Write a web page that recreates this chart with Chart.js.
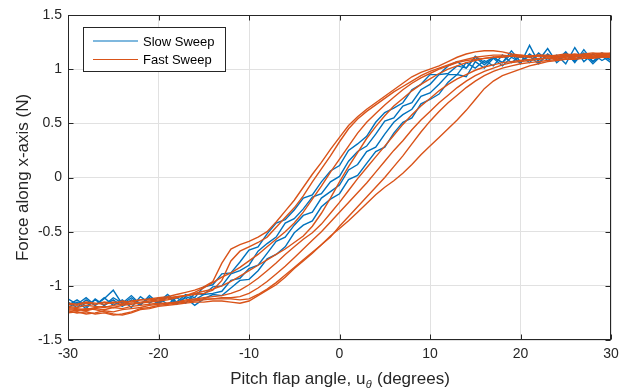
<!DOCTYPE html>
<html>
<head>
<meta charset="utf-8">
<script src="https://cdn.jsdelivr.net/npm/chart.js@4/dist/chart.umd.min.js"></script>
<style>
  html, body { margin: 0; padding: 0; background: #fff; }
  #wrap { width: 629px; height: 392px; }
</style>
</head>
<body>
<div id="wrap"><canvas id="forceChart"></canvas></div>
<script>
// pitch flap angle samples (degrees), shared by every sweep branch
const angleDeg = [-30,-29,-28,-27,-26,-25,-24,-23,-22,-21,-20,-19,-18,-17,-16,-15,-14,-13,-12,-11,-10,-9,-8,-7,-6,-5,-4,-3,-2,-1,
  0,1,2,3,4,5,6,7,8,9,10,11,12,13,14,15,16,17,18,19,20,21,22,23,24,25,26,27,28,29,30];

// slow sweep branches (N)
const slowSweep1 = [-1.12,-1.17,-1.11,-1.18,-1.12,-1.04,-1.17,-1.11,-1.17,-1.11,-1.15,-1.08,-1.15,-1.08,-1.11,
  -1.01,-0.99,-0.89,-0.88,-0.78,-0.67,-0.64,-0.52,-0.42,-0.39,-0.30,-0.19,-0.16,-0.04,0.06,0.11,0.25,0.31,0.38,0.51,0.60,0.64,0.69,0.81,0.86,0.95,0.95,1.03,
  1.07,1.01,1.12,1.06,1.11,1.06,1.17,1.07,1.12,1.05,1.14,1.08,1.16,1.06,1.18,1.07,1.15,1.08];
const slowSweep2 = [-1.18,-1.13,-1.19,-1.13,-1.18,-1.11,-1.16,-1.09,-1.17,-1.11,-1.17,-1.10,-1.17,-1.10,-1.13,
  -1.08,-1.01,-1.00,-0.89,-0.86,-0.81,-0.68,-0.61,-0.55,-0.42,-0.38,-0.29,-0.18,-0.15,-0.04,0.01,0.15,0.24,0.29,0.40,0.52,0.55,0.66,0.69,0.81,0.86,0.95,0.96,
  1.03,1.01,1.11,1.04,1.11,1.06,1.14,1.05,1.22,1.06,1.13,1.08,1.15,1.07,1.14,1.05,1.13,1.08];
const slowSweep3 = [-1.15,-1.20,-1.13,-1.18,-1.11,-1.18,-1.13,-1.20,-1.10,-1.16,-1.11,-1.17,-1.11,-1.16,-1.07,
  -1.08,-1.07,-1.05,-0.95,-0.93,-0.84,-0.81,-0.70,-0.59,-0.55,-0.44,-0.35,-0.32,-0.19,-0.13,-0.07,0.07,0.12,0.24,0.28,0.40,0.51,0.58,0.63,0.75,0.78,0.86,0.95,
  0.95,1.06,1.01,1.08,1.03,1.13,1.06,1.12,1.06,1.15,1.08,1.13,1.05,1.20,1.07,1.14,1.08,1.13];
const slowSweep4 = [-1.20,-1.15,-1.21,-1.12,-1.18,-1.13,-1.19,-1.13,-1.18,-1.09,-1.16,-1.10,-1.16,-1.11,-1.18,
  -1.12,-1.08,-1.09,-1.02,-0.95,-0.94,-0.86,-0.75,-0.71,-0.64,-0.51,-0.44,-0.40,-0.27,-0.20,-0.15,-0.02,0.02,0.13,0.24,0.28,0.41,0.51,0.55,0.68,0.72,0.77,0.88,
  0.95,0.93,1.07,1.01,1.10,1.03,1.11,1.06,1.14,1.08,1.19,1.06,1.13,1.08,1.15,1.07,1.12,1.06];

// fast sweep branches (N)
const fastSweep1 = [-1.17,-1.18,-1.16,-1.17,-1.15,-1.16,-1.14,-1.15,-1.13,-1.12,-1.11,-1.10,-1.08,-1.06,-1.04,-1.01,-0.96,-0.79,-0.66,-0.62,-0.59,-0.55,-0.50,-0.41,-0.31,-0.21,-0.09,0.03,0.14,0.26,
  0.37,0.48,0.56,0.63,0.69,0.75,0.81,0.87,0.93,0.97,1.00,1.03,1.07,1.11,1.14,1.16,1.17,1.17,1.16,1.14,1.13,1.12,1.12,1.11,1.12,1.12,1.13,1.12,1.13,1.14,1.13];
const fastSweep2 = [-1.19,-1.20,-1.18,-1.19,-1.20,-1.18,-1.17,-1.16,-1.15,-1.14,-1.13,-1.12,-1.10,-1.09,-1.08,-1.07,-1.04,-0.95,-0.77,-0.68,-0.64,-0.60,-0.55,-0.46,-0.37,-0.28,-0.17,-0.04,0.08,0.20,
  0.33,0.45,0.54,0.61,0.67,0.73,0.79,0.84,0.89,0.94,0.98,1.01,1.04,1.07,1.09,1.11,1.12,1.13,1.13,1.12,1.12,1.11,1.12,1.12,1.11,1.12,1.13,1.13,1.12,1.13,1.14];
const fastSweep3 = [-1.20,-1.21,-1.22,-1.20,-1.19,-1.20,-1.18,-1.17,-1.16,-1.15,-1.14,-1.13,-1.11,-1.09,-1.06,-1.02,-0.97,-0.92,-0.88,-0.83,-0.77,-0.71,-0.64,-0.57,-0.50,-0.42,-0.32,-0.20,-0.08,0.05,
  0.17,0.29,0.41,0.51,0.59,0.67,0.74,0.81,0.87,0.92,0.96,1.00,1.03,1.06,1.08,1.09,1.10,1.11,1.11,1.12,1.11,1.12,1.13,1.12,1.13,1.14,1.13,1.14,1.15,1.14,1.15];
const fastSweep4 = [-1.16,-1.17,-1.15,-1.16,-1.17,-1.15,-1.16,-1.14,-1.13,-1.13,-1.12,-1.11,-1.10,-1.09,-1.07,-1.05,-1.03,-1.00,-0.96,-0.91,-0.86,-0.81,-0.76,-0.71,-0.66,-0.60,-0.54,-0.45,-0.33,-0.19,
  -0.04,0.10,0.23,0.36,0.47,0.57,0.66,0.73,0.80,0.86,0.91,0.96,1.00,1.03,1.06,1.08,1.10,1.11,1.12,1.12,1.13,1.12,1.13,1.13,1.12,1.13,1.14,1.13,1.14,1.15,1.14];
const fastSweep5 = [-1.25,-1.24,-1.26,-1.25,-1.23,-1.24,-1.22,-1.21,-1.20,-1.18,-1.17,-1.16,-1.15,-1.13,-1.12,-1.11,-1.10,-1.09,-1.07,-1.04,-0.99,-0.93,-0.86,-0.79,-0.71,-0.64,-0.57,-0.51,-0.43,-0.33,
  -0.23,-0.12,-0.01,0.09,0.19,0.29,0.39,0.49,0.58,0.66,0.73,0.80,0.86,0.91,0.95,0.99,1.02,1.04,1.06,1.07,1.08,1.09,1.10,1.10,1.11,1.10,1.11,1.12,1.11,1.12,1.12];
const fastSweep6 = [-1.21,-1.22,-1.23,-1.21,-1.22,-1.20,-1.21,-1.19,-1.18,-1.17,-1.16,-1.16,-1.15,-1.14,-1.13,-1.12,-1.12,-1.11,-1.11,-1.10,-1.07,-1.02,-0.96,-0.89,-0.82,-0.74,-0.66,-0.58,-0.50,-0.41,
  -0.32,-0.23,-0.14,-0.05,0.05,0.15,0.25,0.34,0.44,0.53,0.61,0.69,0.76,0.83,0.89,0.94,0.98,1.01,1.04,1.06,1.07,1.08,1.09,1.10,1.10,1.11,1.12,1.11,1.12,1.13,1.12];
const fastSweep7 = [-1.23,-1.25,-1.24,-1.26,-1.25,-1.27,-1.26,-1.24,-1.21,-1.20,-1.18,-1.17,-1.16,-1.15,-1.14,-1.13,-1.12,-1.12,-1.12,-1.13,-1.12,-1.08,-1.03,-0.97,-0.90,-0.83,-0.76,-0.69,-0.62,-0.55,
  -0.45,-0.36,-0.27,-0.18,-0.09,0.00,0.10,0.20,0.31,0.42,0.52,0.61,0.69,0.76,0.83,0.89,0.94,0.98,1.01,1.03,1.05,1.06,1.07,1.08,1.09,1.09,1.10,1.10,1.11,1.11,1.12];
const fastSweep8 = [-1.22,-1.23,-1.21,-1.22,-1.24,-1.26,-1.27,-1.25,-1.22,-1.21,-1.19,-1.18,-1.17,-1.16,-1.15,-1.15,-1.14,-1.14,-1.15,-1.16,-1.14,-1.09,-1.04,-0.99,-0.92,-0.84,-0.77,-0.70,-0.62,-0.54,
  -0.47,-0.40,-0.32,-0.24,-0.16,-0.09,-0.03,0.04,0.12,0.21,0.29,0.37,0.45,0.53,0.62,0.72,0.82,0.89,0.94,0.97,1.00,1.03,1.05,1.07,1.08,1.09,1.09,1.10,1.10,1.11,1.11];

const seriesNames = ['Slow Sweep', 'Fast Sweep'];
const seriesColors = ['#0072BD', '#D95319'];
const slowBranches = [slowSweep1, slowSweep2, slowSweep3, slowSweep4];
const fastBranches = [fastSweep1, fastSweep2, fastSweep3, fastSweep4, fastSweep5, fastSweep6, fastSweep7, fastSweep8];

const xTicks = [-30, -20, -10, 0, 10, 20, 30];
const xTickLabels = ['-30', '-20', '-10', '0', '10', '20', '30'];
const yTicks = [-1.5, -1, -0.5, 0, 0.5, 1, 1.5];
const yTickLabels = ['-1.5', '-1', '-0.5', '0', '0.5', '1', '1.5'];

const FONT = '"Liberation Sans", Arial, Helvetica, sans-serif';
const TEXT_COLOR = '#262626';

function branchDataset(ys, series) {
    return {
        label: seriesNames[series],
        data: angleDeg.map((a, i) => ({ x: a, y: ys[i] })),
        borderColor: seriesColors[series],
        borderWidth: 1.4,
        pointRadius: 0,
        showLine: true,
        tension: 0,
        order: series === 0 ? 1 : 0
    };
}

const datasets = [
    ...slowBranches.map(b => branchDataset(b, 0)),
    ...fastBranches.map(b => branchDataset(b, 1))
];

// MATLAB-like box, inward ticks, legend and axis titles
const matlabAxes = {
    id: 'matlabAxes',
    afterDatasetsDraw(chart) {
        const { ctx, chartArea: a, scales: { x, y } } = chart;
        const L = Math.round(a.left) + 0.5, R = Math.round(a.right) - 0.5;
        const T = Math.round(a.top) + 0.5, B = Math.round(a.bottom) - 0.5;
        ctx.save();
        ctx.strokeStyle = TEXT_COLOR;
        ctx.lineWidth = 1;
        ctx.strokeRect(L, T, R - L, B - T);
        ctx.beginPath();
        xTicks.forEach(v => {
            const px = Math.round(x.getPixelForValue(v)) + 0.5;
            ctx.moveTo(px, B); ctx.lineTo(px, B - 5);
            ctx.moveTo(px, T); ctx.lineTo(px, T + 5);
        });
        yTicks.forEach(v => {
            const py = Math.round(y.getPixelForValue(v)) + 0.5;
            ctx.moveTo(L, py); ctx.lineTo(L + 5, py);
            ctx.moveTo(R, py); ctx.lineTo(R - 5, py);
        });
        ctx.stroke();

        // legend box
        const lx = 83.5, ly = 27.5, lw = 142, lh = 44;
        ctx.fillStyle = '#fff';
        ctx.fillRect(lx, ly, lw, lh);
        ctx.strokeStyle = '#262626';
        ctx.strokeRect(lx, ly, lw, lh);
        ctx.font = '13px ' + FONT;
        ctx.textBaseline = 'middle';
        ctx.textAlign = 'left';
        seriesNames.forEach((name, i) => {
            const yy = 41 + i * 18.5;
            ctx.strokeStyle = seriesColors[i];
            ctx.lineWidth = 1.2;
            ctx.beginPath();
            ctx.moveTo(93, yy); ctx.lineTo(138, yy);
            ctx.stroke();
            ctx.fillStyle = '#000';
            ctx.fillText(name, 143, yy + 1);
        });
        ctx.restore();
    },
    afterDraw(chart) {
        const { ctx, chartArea: a } = chart;
        ctx.save();
        ctx.fillStyle = TEXT_COLOR;
        ctx.textBaseline = 'alphabetic';
        // x title with subscript theta
        const main = 'Pitch flap angle, u';
        const tail = ' (degrees)';
        ctx.font = '17px ' + FONT;
        const w1 = ctx.measureText(main).width;
        const w3 = ctx.measureText(tail).width;
        ctx.font = 'italic 11px ' + FONT;
        const w2 = ctx.measureText('\u03B8').width;
        const cx = (a.left + a.right) / 2;
        const sx = cx - (w1 + w2 + w3) / 2;
        const base = 384;
        ctx.font = '17px ' + FONT;
        ctx.textAlign = 'left';
        ctx.fillText(main, sx, base);
        ctx.font = 'italic 11px ' + FONT;
        ctx.fillText('\u03B8', sx + w1 + 0.5, base + 4);
        ctx.font = '17px ' + FONT;
        ctx.fillText(tail, sx + w1 + w2 + 1, base);
        // y title
        ctx.translate(23, (a.top + a.bottom) / 2);
        ctx.rotate(-Math.PI / 2);
        ctx.textAlign = 'center';
        ctx.textBaseline = 'middle';
        ctx.fillText('Force along x-axis (N)', 0, 0);
        ctx.restore();
    }
};

new Chart(document.getElementById('forceChart'), {
    type: 'scatter',
    data: { datasets },
    options: {
        responsive: true,
        maintainAspectRatio: false,
        animation: false,
        devicePixelRatio: 1,
        layout: { padding: { top: 15, right: 18, left: 0, bottom: 0 } },
        plugins: {
            legend: { display: false },
            tooltip: { enabled: false }
        },
        scales: {
            x: {
                type: 'linear',
                min: -30,
                max: 30,
                afterBuildTicks: s => { s.ticks = xTicks.map(v => ({ value: v })); },
                afterFit: s => { s.height = 52; },
                ticks: {
                    font: { family: FONT, size: 14 },
                    color: TEXT_COLOR,
                    padding: 6,
                    maxRotation: 0,
                    callback: v => xTickLabels[xTicks.indexOf(v)]
                },
                grid: { color: '#e1e1e1', drawTicks: false },
                border: { display: false }
            },
            y: {
                min: -1.5,
                max: 1.5,
                afterBuildTicks: s => { s.ticks = yTicks.map(v => ({ value: v })); },
                afterFit: s => { s.width = 68; },
                ticks: {
                    font: { family: FONT, size: 14 },
                    color: TEXT_COLOR,
                    padding: 6,
                    callback: v => yTickLabels[yTicks.indexOf(v)]
                },
                grid: { color: '#e1e1e1', drawTicks: false },
                border: { display: false }
            }
        }
    },
    plugins: [matlabAxes]
});
</script>
</body>
</html>
